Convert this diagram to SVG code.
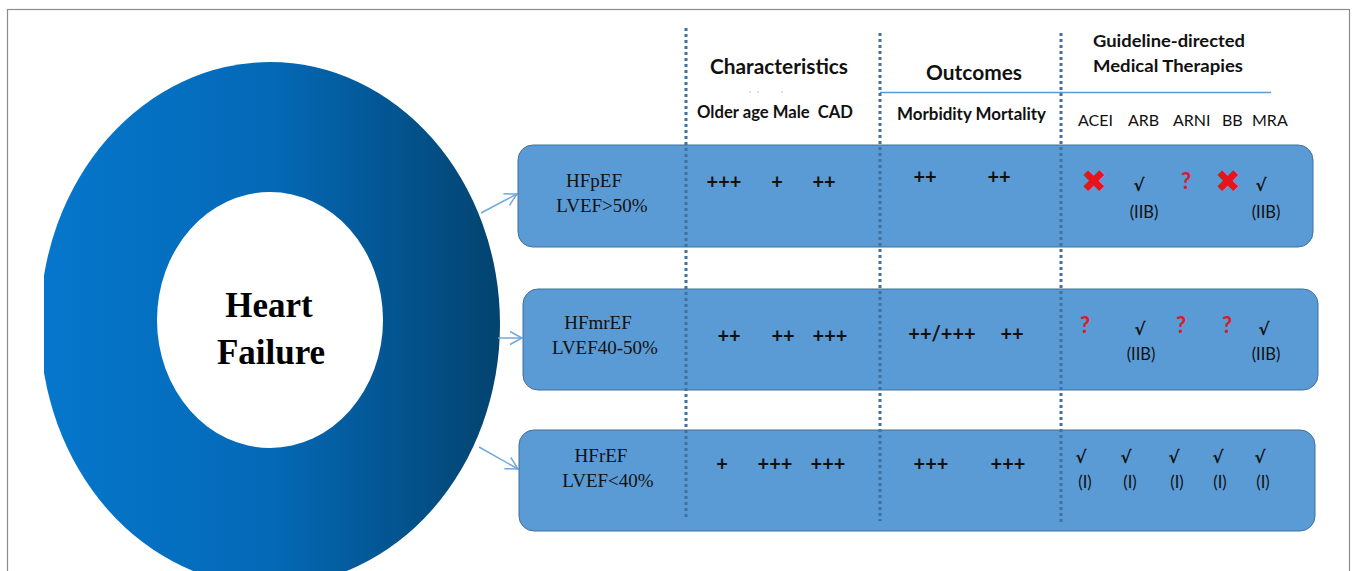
<svg xmlns="http://www.w3.org/2000/svg" width="1357" height="571" viewBox="0 0 1357 571">
<defs>
<linearGradient id="ringGrad" x1="0" y1="0" x2="1" y2="0">
<stop offset="0" stop-color="#0577CC"/>
<stop offset="0.5" stop-color="#0469B7"/>
<stop offset="1" stop-color="#03436F"/>
</linearGradient>
<clipPath id="ringClip"><rect x="44" y="0" width="500" height="600"/></clipPath>
<marker id="arr" markerUnits="userSpaceOnUse" markerWidth="16" markerHeight="16" refX="13" refY="7" orient="auto" viewBox="0 0 16 14">
<path d="M1,0.5 L13,7 L1,13.5" fill="none" stroke="#6FA8DC" stroke-width="1.5"/>
</marker>
<style>
.box{fill:#5B9BD5;stroke:#41719C;stroke-width:1}
.dots{stroke:#41719C;stroke-width:3;stroke-dasharray:3 3;fill:none}
.hdr{font-family:Lato,"Liberation Sans",sans-serif;font-weight:bold;fill:#111}
.sub{font-family:Lato,"Liberation Sans",sans-serif;font-weight:bold;font-size:16.5px;fill:#111}
.drug{font-family:Lato,"Liberation Sans",sans-serif;font-size:16px;fill:#111}
.ser{font-family:"Liberation Serif",serif;font-size:19px;fill:#111;text-anchor:middle}
.pl{font-family:Lato,"Liberation Sans",sans-serif;font-weight:bold;font-size:20px;fill:#111;text-anchor:middle}
.ck{font-family:"DejaVu Sans",sans-serif;font-weight:bold;font-size:17px;fill:#111;text-anchor:middle}
.cls{font-family:Lato,"Liberation Sans",sans-serif;font-size:16.5px;fill:#111;text-anchor:middle}
.no{font-family:"DejaVu Sans",sans-serif;font-weight:bold;font-size:31px;fill:#E8141B;text-anchor:middle}
.q{font-family:Lato,"Liberation Sans",sans-serif;font-weight:bold;font-size:22px;fill:#D4202A;text-anchor:middle}
.conn{stroke:#6FA8DC;stroke-width:1.5;fill:none}
</style>
</defs>
<rect x="0" y="0" width="1357" height="571" fill="#ffffff"/>
<rect x="7.5" y="9.5" width="1342" height="620" fill="none" stroke="#8c8c8c" stroke-width="1.2"/>

<g id="ring">
<ellipse cx="270" cy="324" rx="230" ry="262" fill="url(#ringGrad)" clip-path="url(#ringClip)"/>
<ellipse cx="270" cy="320" rx="113" ry="128" fill="#ffffff"/>
<text x="269" y="317" font-family="Liberation Serif,serif" font-weight="bold" font-size="35" text-anchor="middle" fill="#000">Heart</text>
<text x="271" y="364" font-family="Liberation Serif,serif" font-weight="bold" font-size="35" text-anchor="middle" fill="#000">Failure</text>
</g>

<g id="connectors">
<line class="conn" x1="481" y1="213" x2="517" y2="194" marker-end="url(#arr)"/>
<line class="conn" x1="498" y1="338" x2="522" y2="338" marker-end="url(#arr)"/>
<line class="conn" x1="479" y1="447" x2="518" y2="469" marker-end="url(#arr)"/>
</g>

<g id="header">
<text class="hdr" x="779" y="74" font-size="20" text-anchor="middle" textLength="138" lengthAdjust="spacingAndGlyphs">Characteristics</text>
<circle cx="750" cy="92" r="0.8" fill="#bbbbbb"/>
<circle cx="758" cy="92" r="0.8" fill="#bbbbbb"/>
<circle cx="782" cy="92" r="0.8" fill="#bbbbbb"/>
<text class="sub" x="697" y="118" style="white-space:pre" textLength="156" lengthAdjust="spacingAndGlyphs">Older age Male  CAD</text>
<text class="hdr" x="974" y="80" font-size="20" text-anchor="middle" textLength="96" lengthAdjust="spacingAndGlyphs">Outcomes</text>
<text class="sub" x="897" y="120" textLength="149" lengthAdjust="spacingAndGlyphs">Morbidity Mortality</text>
<text class="hdr" x="1093" y="47" font-size="17.5" textLength="152" lengthAdjust="spacingAndGlyphs">Guideline-directed</text>
<text class="hdr" x="1093" y="72" font-size="17.5" textLength="150" lengthAdjust="spacingAndGlyphs">Medical Therapies</text>
<line x1="880" y1="92.5" x2="1271" y2="92.5" stroke="#5B9BD5" stroke-width="1.5"/>
<text class="drug" x="1078" y="126">ACEI</text>
<text class="drug" x="1128" y="126">ARB</text>
<text class="drug" x="1173" y="126">ARNI</text>
<text class="drug" x="1222" y="126">BB</text>
<text class="drug" x="1252" y="126">MRA</text>
</g>

<g id="row-hfpef">
<rect class="box" x="518" y="145" width="795" height="102" rx="15"/>
<text class="ser" x="594" y="187">HFpEF</text>
<text class="ser" x="602" y="212">LVEF&gt;50%</text>
<text class="pl" x="724" y="189">+++</text>
<text class="pl" x="777" y="189">+</text>
<text class="pl" x="824" y="189">++</text>
<text class="pl" x="925" y="184">++</text>
<text class="pl" x="999" y="184">++</text>
<text class="no" x="1094" y="192">✖</text>
<text class="ck" x="1139" y="191">√</text>
<text class="cls" x="1144" y="218">(IIB)</text>
<text class="q" x="1186" y="189">?</text>
<text class="no" x="1228" y="192">✖</text>
<text class="ck" x="1261" y="191">√</text>
<text class="cls" x="1266" y="218">(IIB)</text>
</g>

<g id="row-hfmref">
<rect class="box" x="523" y="289" width="795" height="101" rx="15"/>
<text class="ser" x="598" y="329">HFmrEF</text>
<text class="ser" x="605" y="354">LVEF40-50%</text>
<text class="pl" x="729" y="343">++</text>
<text class="pl" x="783" y="343">++</text>
<text class="pl" x="830" y="343">+++</text>
<text class="pl" x="942" y="341">++/+++</text>
<text class="pl" x="1012" y="341">++</text>
<text class="q" x="1085" y="333">?</text>
<text class="ck" x="1140" y="335">√</text>
<text class="cls" x="1141" y="360">(IIB)</text>
<text class="q" x="1181" y="333">?</text>
<text class="q" x="1227" y="333">?</text>
<text class="ck" x="1264" y="335">√</text>
<text class="cls" x="1266" y="360">(IIB)</text>
</g>

<g id="row-hfref">
<rect class="box" x="519" y="430" width="796" height="101" rx="15"/>
<text class="ser" x="601" y="462">HFrEF</text>
<text class="ser" x="608" y="487">LVEF&lt;40%</text>
<text class="pl" x="722" y="471">+</text>
<text class="pl" x="775" y="471">+++</text>
<text class="pl" x="828" y="471">+++</text>
<text class="pl" x="931" y="471">+++</text>
<text class="pl" x="1008" y="471">+++</text>
<text class="ck" x="1081" y="463">√</text>
<text class="cls" x="1085" y="488">(I)</text>
<text class="ck" x="1126" y="463">√</text>
<text class="cls" x="1130" y="488">(I)</text>
<text class="ck" x="1174" y="463">√</text>
<text class="cls" x="1177" y="488">(I)</text>
<text class="ck" x="1218" y="463">√</text>
<text class="cls" x="1220" y="488">(I)</text>
<text class="ck" x="1260" y="463">√</text>
<text class="cls" x="1263" y="488">(I)</text>
</g>

<g id="dividers">
<line class="dots" x1="686" y1="28" x2="686" y2="518"/>
<line class="dots" x1="880" y1="33" x2="880" y2="521"/>
<line class="dots" x1="1061" y1="33" x2="1061" y2="525"/>
</g>
</svg>
